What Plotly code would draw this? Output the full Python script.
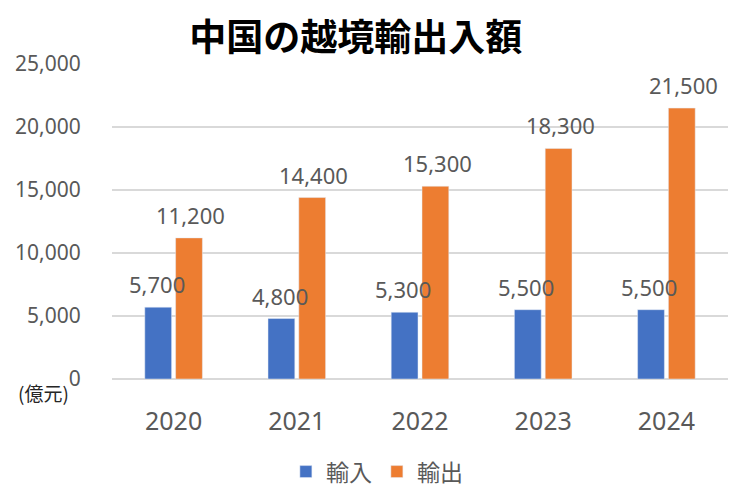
import plotly.graph_objects as go

years = ["2020", "2021", "2022", "2023", "2024"]
imports = [5700, 4800, 5300, 5500, 5500]
exports = [11200, 14400, 15300, 18300, 21500]
y_ticks = [0, 5000, 10000, 15000, 20000, 25000]

font_family = "Noto Sans CJK JP"
num_font = "Noto Sans"
gray = "#595959"

pos = list(range(len(years)))

fig = go.Figure()
fig.add_trace(go.Bar(x=pos, y=imports, name="輸入", marker_color="#4472C4"))
fig.add_trace(go.Bar(x=pos, y=exports, name="輸出", marker_color="#ED7D31"))

annotations = []
for series, shift in ((imports, -17), (exports, 17)):
    for p, v in zip(pos, series):
        annotations.append(dict(
            x=p, y=v, xref="x", yref="y", text=f"{v:,}", showarrow=False,
            xshift=shift, yshift=23, xanchor="center", yanchor="middle",
            font=dict(size=22, color=gray, family=num_font)))
annotations.append(dict(text="(億元)", xref="paper", yref="paper",
                        x=-0.066, y=-0.044, xanchor="right", yanchor="middle",
                        showarrow=False,
                        font=dict(size=19, color="#262626", family=font_family)))

fig.update_layout(
    width=743, height=496,
    margin=dict(l=104, r=23, t=56, b=124),
    paper_bgcolor="white", plot_bgcolor="white",
    font=dict(family=font_family, color=gray),
    barmode="group", bargap=0.5, bargroupgap=0.13,
    title=dict(text="<b>中国の越境輸出入額</b>", x=0.468, xanchor="center",
               y=0.94, yanchor="middle",
               font=dict(size=37, color="black", family=font_family)),
    xaxis=dict(range=[-0.5, len(years) - 0.5], tickvals=pos, ticktext=years,
               tickfont=dict(size=25, color=gray, family=num_font),
               showgrid=False, showline=False, zeroline=False, automargin=False,
               ticks="outside", ticklen=20, tickcolor="rgba(0,0,0,0)"),
    yaxis=dict(range=[0, 25000], tickvals=y_ticks,
               ticktext=[f"{v:,}" for v in y_ticks],
               tickfont=dict(size=21, color=gray, family=num_font),
               showgrid=True, gridcolor="#D9D9D9", gridwidth=2,
               zeroline=True, zerolinecolor="#D9D9D9", zerolinewidth=2,
               automargin=False,
               ticks="outside", ticklen=26, tickcolor="rgba(0,0,0,0)"),
    legend=dict(orientation="h", x=0.43, xanchor="center", y=-0.29,
                yanchor="middle", font=dict(size=23, color=gray),
                itemwidth=30),
    showlegend=True,
    annotations=annotations,
)

fig.write_html("out.html")
